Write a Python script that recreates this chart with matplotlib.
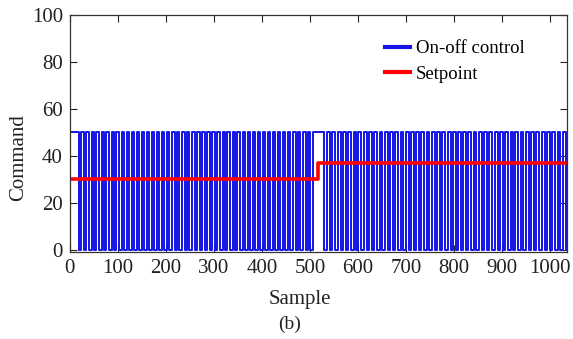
import matplotlib
matplotlib.use("Agg")
import matplotlib.pyplot as plt
import numpy as np

plt.rcParams['font.family'] = ['Liberation Serif', 'DejaVu Serif']

# On-off control: level values and switching samples (rising / falling edges)
cmd_low = 0
cmd_high = 50
first_on = (0, 19)
on_starts = [24, 34, 45, 55, 66, 76, 87, 97, 108, 118, 129, 139, 150, 160, 171,
             181, 192, 202, 213, 223, 234, 244, 255, 265, 276, 286, 297, 307,
             318, 328, 339, 349, 360, 370, 381, 391, 402, 412, 423, 433, 444,
             454, 465, 475, 486, 496, 507,
             536, 547, 558, 569, 580, 591, 601, 612, 623, 634, 645, 656, 667,
             678, 689, 700, 710, 721, 732, 743, 754, 765, 776, 787, 798, 809,
             819, 830, 841, 852, 863, 874, 885, 896, 907, 918, 928, 939, 950,
             961, 972, 983, 994, 1005, 1016, 1027]
on_ends = [29, 39, 50, 60, 71, 81, 92, 102, 113, 123, 134, 144, 155, 165, 176,
           186, 197, 207, 218, 228, 239, 249, 260, 270, 281, 291, 302, 312,
           323, 333, 344, 354, 365, 375, 386, 396, 407, 417, 428, 438, 449,
           459, 470, 480, 491, 501, 530,
           542, 553, 564, 575, 586, 597, 607, 618, 629, 640, 651, 662, 673,
           684, 695, 706, 716, 727, 738, 749, 760, 771, 782, 793, 804, 815,
           825, 836, 847, 858, 869, 880, 891, 902, 913, 924, 934, 945, 956,
           967, 978, 989, 1000, 1011, 1022, 1033]
last_sample = 1035

# Setpoint
sp_edges = [0, 517, 1035]
sp_values = [30, 37]

x_ticks = [0, 100, 200, 300, 400, 500, 600, 700, 800, 900, 1000]
y_ticks = [0, 20, 40, 60, 80, 100]

# build step path for on-off signal
xs = [first_on[0], first_on[0], first_on[1], first_on[1]]
ys = [cmd_low, cmd_high, cmd_high, cmd_low]
for s, e in zip(on_starts, on_ends):
    xs += [s, s, e, e]
    ys += [cmd_low, cmd_high, cmd_high, cmd_low]
xs.append(last_sample)
ys.append(cmd_low)

fig = plt.figure(figsize=(5.73, 3.39), dpi=100)
ax = fig.add_axes([0.122, 0.257, 0.867, 0.699])

ax.plot(xs, ys, color='#1414e6', lw=1.4, label='On-off control')
spx = []
spy = []
for i, v in enumerate(sp_values):
    spx += [sp_edges[i], sp_edges[i + 1]]
    spy += [v, v]
ax.plot(spx, spy, color='#ff0000', lw=2.6, label='Setpoint')

ax.set_xlim(0, 1035)
ax.set_ylim(-1, 100)
ax.set_xticks(x_ticks)
ax.set_yticks(y_ticks)
ax.tick_params(direction='in', top=True, right=True, labelsize=15,
               length=5, width=0.8, colors='#222222', labelcolor='#222222',
               pad=5)
for sp in ax.spines.values():
    sp.set_color('#333333')
    sp.set_linewidth(0.9)

ax.set_xlabel('Sample', fontsize=15, color='#222222')
ax.set_ylabel('Command', fontsize=15, color='#222222')
ax.xaxis.set_label_coords(0.463, -0.16)
ax.yaxis.set_label_coords(-0.085, 0.40)

leg = ax.legend(loc='upper left', bbox_to_anchor=(0.6, 0.965), frameon=False,
                fontsize=13.5, handlelength=1.35, handletextpad=0.3,
                labelspacing=0.45)
for line in leg.get_lines():
    line.set_linewidth(3)

fig.text(0.506, 0.03, '(b)', ha='center', fontsize=14, color='#222222')

fig.savefig('out.png', dpi=100)
